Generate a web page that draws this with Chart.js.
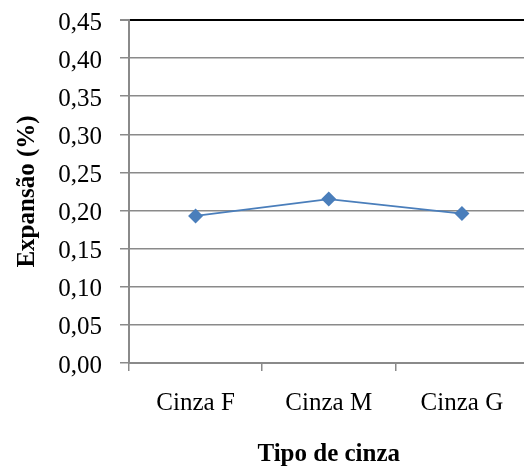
<!DOCTYPE html>
<html>
<head>
<meta charset="utf-8">
<script src="https://cdn.jsdelivr.net/npm/chart.js@4"></script>
<style>
  html, body { margin: 0; padding: 0; background: #fff; overflow: hidden; }
  #wrap { width: 536px; height: 470px; position: relative; }
</style>
</head>
<body>
<div id="wrap"><canvas id="c"></canvas></div>
<script>
// Expansion by ash type
const categories = ['Cinza F', 'Cinza M', 'Cinza G'];
const expansao = [0.193, 0.215, 0.196];
const yTicks = [0, 0.05, 0.10, 0.15, 0.20, 0.25, 0.30, 0.35, 0.40, 0.45];

const serif = '"Liberation Serif", "Times New Roman", serif';
const gridGray = '#8a8a8a';

new Chart(document.getElementById('c'), {
  type: 'line',
  data: {
    labels: categories,
    datasets: [{
      data: expansao,
      borderColor: '#4a7ebb',
      backgroundColor: '#4a7ebb',
      borderWidth: 1.8,
      pointStyle: 'rectRot',
      pointRadius: 7.5,
      pointHoverRadius: 7.5,
      pointBorderWidth: 0,
      tension: 0
    }]
  },
  options: {
    responsive: true,
    maintainAspectRatio: false,
    animation: false,
    devicePixelRatio: 1,
    layout: { padding: { top: 20, left: 0, right: 0, bottom: 0 } },
    plugins: { legend: { display: false }, tooltip: { enabled: false } },
    scales: {
      x: {
        type: 'category',
        offset: true,
        grid: {
          offset: true,
          drawOnChartArea: false,
          drawTicks: true,
          tickLength: 8,
          color: gridGray,
          lineWidth: 1.5
        },
        border: { display: true, color: gridGray, width: 2 },
        ticks: {
          color: '#000',
          font: { family: serif, size: 25 },
          padding: 17,
          maxRotation: 0
        },
        title: {
          display: true,
          text: 'Tipo de cinza',
          color: '#000',
          font: { family: serif, size: 25, weight: 'bold' },
          padding: { top: 0, bottom: 0 }
        },
        afterFit: (s) => { s.height = 107; }
      },
      y: {
        min: 0,
        max: 0.45,
        afterBuildTicks: (s) => { s.ticks = yTicks.map(v => ({ value: v })); },
        grid: {
          drawTicks: true,
          tickLength: 9,
          tickColor: gridGray,
          color: (ctx) => (ctx.tick && Math.abs(ctx.tick.value - 0.45) < 1e-9) ? '#000' : gridGray,
          lineWidth: (ctx) => (ctx.tick && Math.abs(ctx.tick.value - 0.45) < 1e-9) ? 2 : 1.5
        },
        border: { display: true, color: gridGray, width: 2 },
        ticks: {
          color: '#000',
          font: { family: serif, size: 25 },
          padding: 18,
          labelOffset: 3,
          callback: (v) => Number(v).toFixed(2).replace('.', ',')
        },
        title: {
          display: true,
          text: 'Expansão (%)',
          color: '#000',
          font: { family: serif, size: 25, weight: 'bold' },
          padding: { top: 13, bottom: 0 }
        },
        afterFit: (s) => {
          s.width = 129;
          s.paddingTop = 0;
          s.paddingBottom = 0;
        }
      }
    }
  }
});
</script>
</body>
</html>
